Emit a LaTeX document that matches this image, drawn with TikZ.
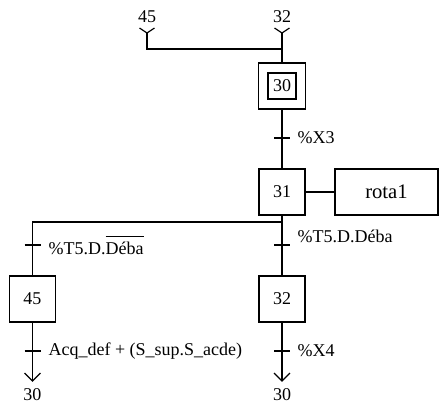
\documentclass[tikz,border=0pt]{standalone}
\usepackage{calc}
\usepackage{fontspec}
\setmainfont{Liberation Serif}
\begin{document}
\begin{tikzpicture}[x=0.75pt,y=-0.75pt,line width=0.9pt,
  stepbox/.style={draw,minimum width=34.5pt,minimum height=34.5pt,inner sep=0pt,font=\fontsize{13.5}{15}\selectfont},
  lbl/.style={inner sep=0pt,font=\fontsize{13.5}{15}\selectfont},
  tick/.pic={\draw (-8,0) -- (8,0);}]
\useasboundingbox (0,0) rectangle (440,404);
% steps
\node[stepbox,minimum width=35.25pt] (s30) at (282,86) {};
\node[draw,minimum width=21pt,minimum height=19.5pt,inner sep=0pt,font=\fontsize{13.5}{15}\selectfont] (s30i) at (282,86) {30};
\node[stepbox] (s31) at (282,192) {31};
\node[draw,minimum width=77.25pt,minimum height=34.5pt,inner sep=0pt,font=\fontsize{15.5}{17}\selectfont] (act) at (386.5,192) {rota1};
\node[stepbox] (s45) at (32.5,299) {45};
\node[stepbox] (s32) at (282,299) {32};
% top entries
\node[lbl] (t45) at (147,17) {45};
\node[lbl] (t32) at (282,17) {32};
\coordinate (v45) at (147,33);
\coordinate (v32) at (282,33);
\coordinate (j) at (282,49);
\draw ([shift={(-7.5,-5)}]v45) -- (v45) -- ([shift={(7.5,-5)}]v45);
\draw ([shift={(-7.5,-5)}]v32) -- (v32) -- ([shift={(7.5,-5)}]v32);
\draw (v45) |- (j);
\draw (v32) -- (s30.north);
% transition X3
\draw (s30.south) -- (s31.north);
\coordinate (tx3) at (282,138);
\pic at (tx3) {tick};
\node[lbl,anchor=west] (lx3) at (297,138) {\%X3};
% action
\draw (s31.east) -- (act.west);
% divergence
\coordinate (bl) at (32.5,222);
\coordinate (br) at (282,222);
\draw (s31.south) -- (s32.north);
\draw (br) -- (bl) -- (s45.north);
\coordinate (tl) at (32.5,245);
\coordinate (tr) at (282,245);
\pic at (tl) {tick};
\pic at (tr) {tick};
\node[lbl,anchor=west] (ltl) at (48,245) {\%T5.D.\rlap{\rule[2.15ex]{\widthof{Déba}}{0.5pt}}Déba};
\node[lbl,anchor=west] (ltr) at (297,236) {\%T5.D.Déba};
% bottom transitions
\coordinate (e45) at (32.5,381);
\coordinate (e32) at (282,381);
\draw (s45.south) -- (e45);
\draw (s32.south) -- (e32);
\draw ([shift={(-8,-8)}]e45) -- (e45) -- ([shift={(8,-8)}]e45);
\draw ([shift={(-8,-8)}]e32) -- (e32) -- ([shift={(8,-8)}]e32);
\coordinate (t45b) at (32.5,351);
\coordinate (t32b) at (282,351);
\pic at (t45b) {tick};
\pic at (t32b) {tick};
\node[lbl,anchor=west] (l45b) at (48,351) {Acq\_def + (S\_sup.S\_acde)};
\node[lbl,anchor=west] (l32b) at (297,351) {\%X4};
\node[lbl] (r45) at (32.5,395) {30};
\node[lbl] (r32) at (282,395) {30};
\end{tikzpicture}
\end{document}
